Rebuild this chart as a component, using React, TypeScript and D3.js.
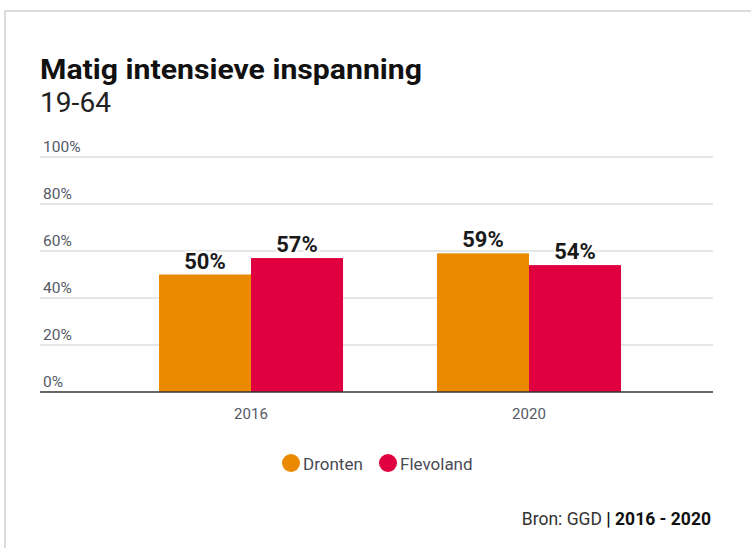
import React from "react";
import * as d3 from "d3";

const years = ["2016", "2020"];
const seriesNames = ["Dronten", "Flevoland"];
const dronten = [50, 59];
const flevoland = [57, 54];
const seriesColors = ["#EA8A00", "#E1003F"];
const yTicks = [0, 20, 40, 60, 80, 100];

const W = 751;
const H = 548;
const FONT = "Roboto, 'Open Sans', sans-serif";

export default function App() {
  const plotLeft = 40;
  const plotRight = 713;
  const y = d3.scaleLinear().domain([0, 100]).range([392, 157]);
  const x0 = d3
    .scaleBand<string>()
    .domain(years)
    .range([112, 668])
    .paddingInner(0.338)
    .paddingOuter(0.169);
  const x1 = d3
    .scaleBand<string>()
    .domain(seriesNames)
    .range([0, x0.bandwidth()])
    .padding(0);
  const values = [dronten, flevoland];
  const color = d3.scaleOrdinal<string, string>().domain(seriesNames).range(seriesColors);

  return (
    <svg
      width={W}
      height={H}
      style={{ position: "absolute", left: 0, top: 0, background: "#fff" }}
      fontFamily={FONT}
    >
      <rect x={5} y={11} width={W + 20} height={H + 20} fill="#fff" stroke="#dcdcdc" strokeWidth={2} />
      <text x={40} y={79} fontSize={28} fontWeight={700} fill="#111" textLength={382} lengthAdjust="spacingAndGlyphs">
        Matig intensieve inspanning
      </text>
      <text x={40} y={112} fontSize={27} fill="#222" textLength={71} lengthAdjust="spacingAndGlyphs">
        19-64
      </text>

      {yTicks.map((t) => (
        <g key={t}>
          {t !== 0 && (
            <line x1={plotLeft} x2={plotRight} y1={y(t)} y2={y(t)} stroke="#dedede" strokeWidth={1.5} />
          )}
          <text x={43} y={y(t) - 5} fontSize={15.5} fill="#555a66">
            {t}%
          </text>
        </g>
      ))}

      {years.map((yr, i) => (
        <g key={yr} transform={`translate(${x0(yr)},0)`}>
          {seriesNames.map((s, j) => {
            const v = values[j][i];
            return (
              <rect
                key={s}
                x={x1(s)}
                y={y(v)}
                width={x1.bandwidth()}
                height={y(0) - y(v)}
                fill={color(s)}
              />
            );
          })}
          {seriesNames.map((s, j) => {
            const v = values[j][i];
            return (
              <text
                key={s + "l"}
                x={(x1(s) as number) + x1.bandwidth() / 2}
                y={y(v) - 6}
                textAnchor="middle"
                fontSize={22}
                fontWeight={700}
                fill="#1a1a1a"
                stroke="#fff"
                strokeWidth={4}
                paintOrder="stroke"
                strokeLinejoin="round"
              >
                {v}%
              </text>
            );
          })}
          <text
            x={x0.bandwidth() / 2}
            y={419}
            textAnchor="middle"
            fontSize={15}
            fill="#555a66"
          >
            {yr}
          </text>
        </g>
      ))}

      <line x1={plotLeft} x2={plotRight} y1={y(0)} y2={y(0)} stroke="#333" strokeWidth={1.5} />

      {seriesNames.map((s, j) => {
        const lx = [291, 388][j];
        return (
          <g key={s}>
            <circle cx={lx} cy={463} r={9} fill={color(s)} />
            <text x={lx + 12} y={469.5} fontSize={17} fill="#4a4a55">
              {s}
            </text>
          </g>
        );
      })}

      <text x={711} y={525} textAnchor="end" fontSize={17.5} fill="#333">
        Bron: GGD <tspan fontWeight={700} fill="#111">| 2016 - 2020</tspan>
      </text>
    </svg>
  );
}
